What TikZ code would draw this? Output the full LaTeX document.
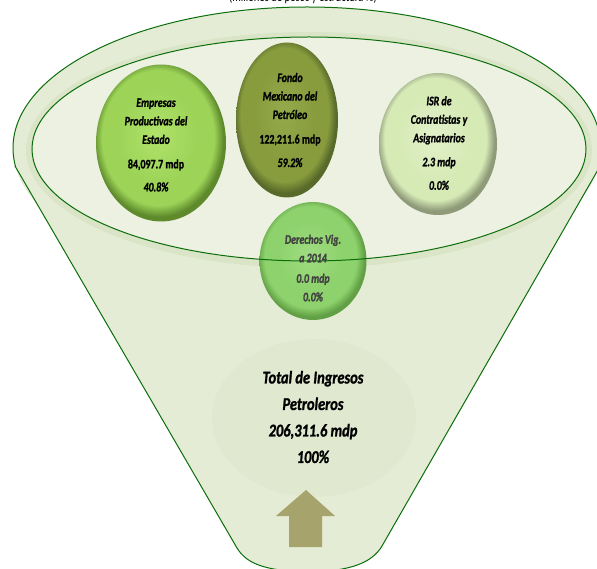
\documentclass[tikz,border=0pt]{standalone}
\usepackage{fontspec}
\setmainfont{Carlito}
\newfontfamily\condfont[FakeStretch=0.76, BoldFeatures={FakeBold=1.2}, BoldItalicFeatures={FakeBold=1.2}]{Carlito}
\newfontfamily\bigfont[FakeStretch=0.8, BoldFeatures={FakeBold=1.2}, BoldItalicFeatures={FakeBold=1.2}]{Carlito}
\usetikzlibrary{shapes.geometric}
\definecolor{frame}{HTML}{0B6E0B}
\definecolor{funnel}{HTML}{E5ECD5}
\definecolor{band}{HTML}{DAE4C6}
\definecolor{innerfill}{HTML}{EDF1E2}
\definecolor{tshadow}{HTML}{E0E8CF}
\definecolor{arrowc}{HTML}{A6A36D}
\definecolor{dtext}{HTML}{404040}
\definecolor{cA1}{HTML}{B0E26A}\definecolor{cA2}{HTML}{9DD458}\definecolor{cA3}{HTML}{5E8A2C}
\definecolor{cB1}{HTML}{95AA4C}\definecolor{cB2}{HTML}{889C3E}\definecolor{cB3}{HTML}{586A2A}
\definecolor{cC1}{HTML}{E2F1CA}\definecolor{cC2}{HTML}{D6EAB6}\definecolor{cC3}{HTML}{8E9A78}
\definecolor{cD1}{HTML}{A0DC82}\definecolor{cD2}{HTML}{8DD26C}\definecolor{cD3}{HTML}{62A046}
\pgfdeclareradialshading{bevA}{\pgfpoint{-2bp}{3bp}}{color(0bp)=(cA1); color(15bp)=(cA2); color(21.5bp)=(cA2); color(25bp)=(cA3); color(50bp)=(cA3)}
\pgfdeclareradialshading{bevB}{\pgfpoint{-2bp}{3bp}}{color(0bp)=(cB1); color(15bp)=(cB2); color(21.5bp)=(cB2); color(25bp)=(cB3); color(50bp)=(cB3)}
\pgfdeclareradialshading{bevC}{\pgfpoint{-2bp}{3bp}}{color(0bp)=(cC1); color(15bp)=(cC2); color(21.5bp)=(cC2); color(25bp)=(cC3); color(50bp)=(cC3)}
\pgfdeclareradialshading{bevD}{\pgfpoint{-2bp}{3bp}}{color(0bp)=(cD1); color(15bp)=(cD2); color(21.5bp)=(cD2); color(25bp)=(cD3); color(50bp)=(cD3)}
\begin{document}
\begin{tikzpicture}[x=1pt,y=-1pt,
  ball/.style={ellipse, shade, draw=none, inner sep=0pt},
  txt/.style={align=center, inner sep=0pt, font=\condfont\fontsize{13}{18.5}\selectfont\bfseries\itshape},
  bigtxt/.style={align=center, inner sep=0pt, font=\bigfont\fontsize{18}{26.5}\selectfont\bfseries\itshape},
  frameline/.style={draw=frame, line width=1pt}]
\useasboundingbox (0,0) rectangle (597,569);
% funnel body
\fill[funnel] (307,148) ellipse [x radius=294, y radius=141];
\fill[funnel] (15,166) -- (237,548) .. controls (248,566) and (270,571) .. (310,572)
   .. controls (350,571) and (372,563) .. (382,546) -- (599,168) -- cycle;
\fill[tshadow] (314,418) ellipse [x radius=102, y radius=79];
% rim
\fill[band] (309,150) ellipse [x radius=283, y radius=118];
\fill[innerfill] (309,149) ellipse [x radius=277, y radius=112];
% top arc of funnel
\begin{scope}
  \clip (0,-20) rectangle (610,167);
  \draw[frameline] (307,148) ellipse [x radius=294, y radius=141];
\end{scope}
\draw[frameline] (15,166) -- (237,548) .. controls (248,566) and (270,571) .. (310,572)
   .. controls (350,571) and (372,563) .. (382,546) -- (599,168);
% balls
\node[ball, shading=bevA, minimum width=130pt, minimum height=157pt] (epe) at (161,143) {};
\node[ball, shading=bevB, minimum width=102pt, minimum height=155pt] (fmp) at (287,120) {};
\node[ball, shading=bevC, minimum width=118pt, minimum height=142pt] (isr) at (438,144) {};
\node[ball, shading=bevD, minimum width=107pt, minimum height=118pt] (der) at (313,261) {};
% inner ellipse outline
\draw[frameline] (309,149) ellipse [x radius=277, y radius=112];
% arrow
\fill[arrowc] (306,490) -- (335,516) -- (322,516) -- (322,547) -- (289,547) -- (289,516) -- (276,516) -- cycle;
% texts
\node[txt] (epeT) at (156,145) {Empresas\\Productivas del\\Estado\\[6pt]\upshape 84,097.7 mdp\\[4.5pt]40.8\%};
\node[txt] (fmpT) at (290,120) {Fondo\\Mexicano del\\Petróleo\\[6pt]\upshape 122,211.6 mdp\\[5pt]59.2\%};
\node[txt] (isrT) at (439,143) {ISR de\\Contratistas y\\Asignatarios\\[5.5pt]2.3 mdp\\[5pt]0.0\%};
\node[txt, text=dtext] (derT) at (313,268) {Derechos Vig.\\a 2014\\[2pt]0.0 mdp\\0.0\%};
\node[bigtxt] (totT) at (313,417) {Total de Ingresos\\Petroleros\\206,311.6 mdp\\100\%};
\node[anchor=base, inner sep=0pt, font=\condfont\fontsize{14}{16}\selectfont] (title) at (303,2) {(millones de pesos y estructura \%)};
\end{tikzpicture}
\end{document}
